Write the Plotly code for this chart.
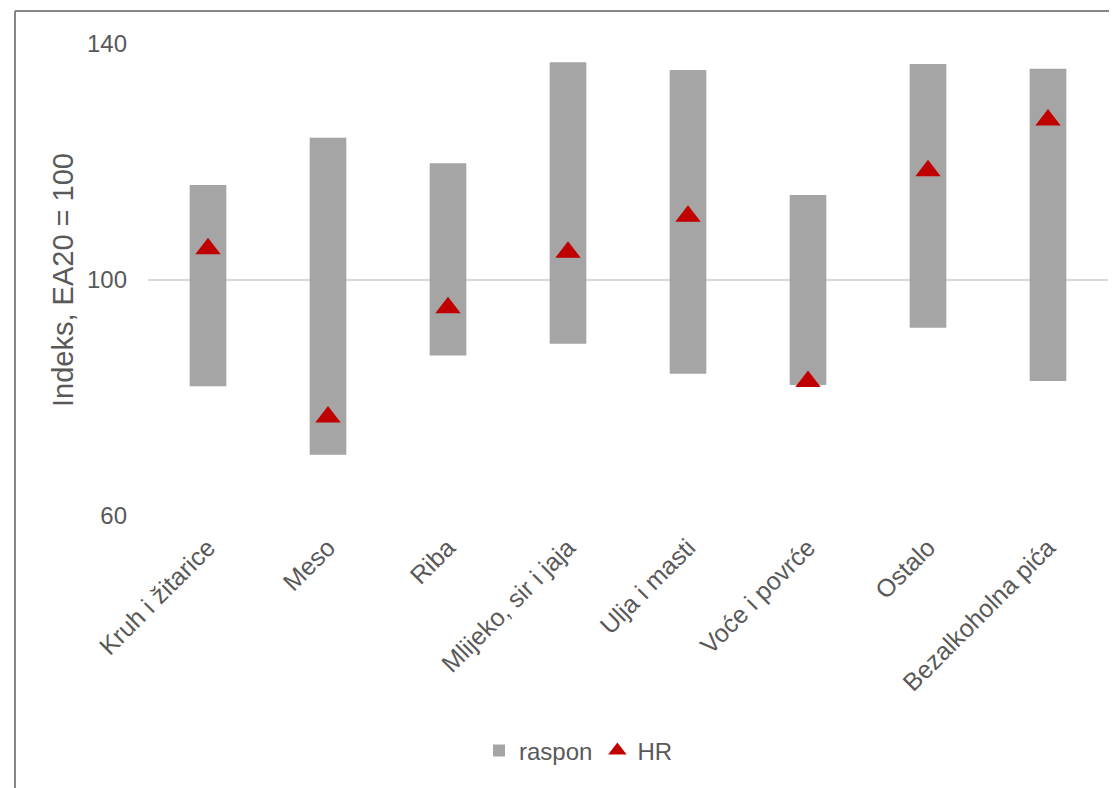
import plotly.graph_objects as go

categories = ["Kruh i žitarice", "Meso", "Riba", "Mlijeko, sir i jaja",
              "Ulja i masti", "Voće i povrće", "Ostalo", "Bezalkoholna pića"]
range_low = [82.0, 70.4, 87.2, 89.2, 84.1, 82.2, 91.9, 82.9]
range_high = [116.1, 124.1, 119.8, 136.9, 135.6, 114.4, 136.6, 135.8]
hr_values = [105.3, 76.8, 95.3, 104.7, 110.8, 82.8, 118.5, 127.1]
y_ticks = [60, 100, 140]

# page body margin shifts the figure by 8px; work in screen coords
OFF = 8
W, H = 1117, 788
L, T = 148 - OFF, 44 - OFF
R = W - (1108 - OFF)
B = H - (516 - OFF)
pw, ph = W - L - R, H - T - B

def px(x):
    return (x - OFF - L) / pw

def py(y):
    return (H - B - (y - OFF)) / ph

font_family = "Liberation Sans, Arial, sans-serif"
text_color = "#595959"
fs = 24

fig = go.Figure()
fig.add_trace(go.Bar(
    x=categories,
    y=[h - l for h, l in zip(range_high, range_low)],
    base=range_low,
    width=0.305,
    marker=dict(color="#a5a5a5", line=dict(width=0)),
    name="raspon",
    hoverinfo="skip",
))
fig.add_trace(go.Scatter(
    x=categories,
    y=hr_values,
    mode="markers",
    marker=dict(symbol="triangle-up", size=22, color="#c00000"),
    name="HR",
    hoverinfo="skip",
))

fig.update_layout(
    width=W, height=H,
    margin=dict(l=L, r=R, t=T, b=B, autoexpand=False),
    paper_bgcolor="white",
    plot_bgcolor="white",
    font=dict(family=font_family, size=fs, color=text_color),
    showlegend=True,
    legend=dict(
        orientation="h",
        x=px(479), xanchor="left",
        y=py(751), yanchor="middle",
        font=dict(size=fs, color=text_color),
        itemwidth=30,
        tracegroupgap=0,
    ),
    xaxis=dict(
        type="category",
        range=[-0.5, len(categories) - 0.5],
        showgrid=False,
        showline=False,
        zeroline=False,
        ticks="",
        tickangle=-45,
        ticklabelstandoff=11,
        tickfont=dict(size=25, color=text_color),
    ),
    yaxis=dict(
        range=[60, 140],
        tickvals=y_ticks,
        ticktext=[str(v) for v in y_ticks],
        showgrid=True,
        gridcolor="#d9d9d9",
        gridwidth=1.5,
        showline=False,
        zeroline=False,
        ticks="",
        ticklabelstandoff=20,
        tickfont=dict(size=fs, color=text_color),
        title=dict(text="Indeks, EA20 = 100", standoff=4,
                   font=dict(size=29, color=text_color)),
    ),
    shapes=[
        dict(type="line", xref="paper", yref="paper",
             x0=px(15), x1=px(15), y0=py(11), y1=py(H + 20),
             line=dict(color="#868686", width=2)),
        dict(type="line", xref="paper", yref="paper",
             x0=px(15), x1=px(W + 20), y0=py(11), y1=py(11),
             line=dict(color="#868686", width=2)),
    ],
)

fig.write_html("out.html")
